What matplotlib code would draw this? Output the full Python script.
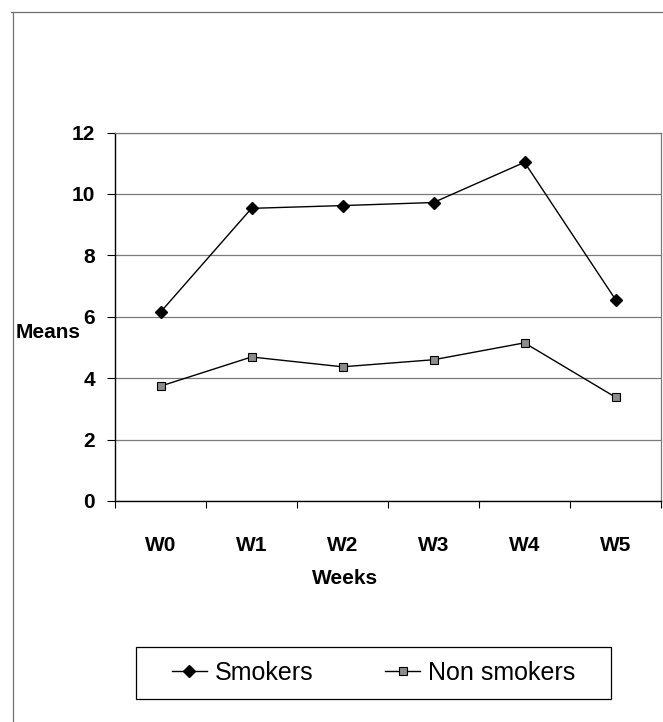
import matplotlib
matplotlib.use("Agg")
import matplotlib.pyplot as plt
from matplotlib.lines import Line2D
from matplotlib.patches import Rectangle

# values
weeks = ['W0', 'W1', 'W2', 'W3', 'W4', 'W5']
smokers = [6.15, 9.53, 9.62, 9.72, 11.03, 6.56]
non_smokers = [3.74, 4.69, 4.37, 4.60, 5.15, 3.38]
y_ticks = [0, 2, 4, 6, 8, 10, 12]

plt.rcParams['font.family'] = ['Liberation Sans', 'DejaVu Sans']

W, H = 663, 722
fig = plt.figure(figsize=(W / 100, H / 100), dpi=100)
ax = fig.add_axes([115 / W, 1 - 501 / H, (661 - 115) / W, (501 - 132.5) / H])

x = list(range(len(weeks)))
ax.plot(x, smokers, color='black', lw=1.0, marker='D', ms=6,
        mfc='black', mec='black', label='Smokers')
ax.plot(x, non_smokers, color='black', lw=1.0, marker='s', ms=6,
        mfc='#8c8c8c', mec='black', mew=0.8, label='Non smokers')

ax.set_xlim(-0.5, len(weeks) - 0.5)
ax.set_ylim(0, 12)

# category boundaries as major ticks, labels on centres
ax.set_xticks([i - 0.5 for i in range(len(weeks) + 1)])
ax.set_xticklabels([])
ax.set_xticks(x, minor=True)
ax.set_xticklabels(weeks, minor=True, fontsize=15, fontweight='bold')
ax.tick_params(axis='x', which='major', direction='out', length=5, width=0.8)
ax.tick_params(axis='x', which='minor', length=0, pad=25)

ax.set_yticks(y_ticks)
ax.set_yticklabels([str(v) for v in y_ticks], fontsize=15, fontweight='bold')
ax.tick_params(axis='y', direction='out', length=5.5, width=0.8, pad=9)

ax.yaxis.grid(True, color='#7a7a7a', lw=0.9)
ax.set_axisbelow(True)

for side in ['left', 'bottom']:
    ax.spines[side].set_color('black')
    ax.spines[side].set_linewidth(1.0)
for side in ['top', 'right']:
    ax.spines[side].set_color('#7a7a7a')
    ax.spines[side].set_linewidth(0.9)

fig.text(345 / W, 1 - 578 / H, 'Weeks', fontsize=15, fontweight='bold',
         ha='center', va='center')
fig.text(16 / W, 1 - 333 / H, 'Means', fontsize=15, fontweight='bold',
         ha='left', va='center')

fig.legend(loc='center', bbox_to_anchor=(373.5 / W, 1 - 673 / H),
           ncol=2, fontsize=18, frameon=False,
           handlelength=1.4, handletextpad=0.3, columnspacing=2.9)

# legend box
fig.add_artist(Rectangle((136 / W, 1 - 699 / H), (611 - 136) / W, 52 / H,
                         fill=False, edgecolor='black', lw=0.9,
                         transform=fig.transFigure))

# outer chart border (only top and left visible)
fig.add_artist(Line2D([11 / W, 1], [1 - 11.5 / H, 1 - 11.5 / H],
                      color='#707070', lw=0.9, transform=fig.transFigure))
fig.add_artist(Line2D([12.5 / W, 12.5 / W], [0, 1 - 11.5 / H],
                      color='#707070', lw=0.9, transform=fig.transFigure))

fig.savefig('out.png', dpi=100)
